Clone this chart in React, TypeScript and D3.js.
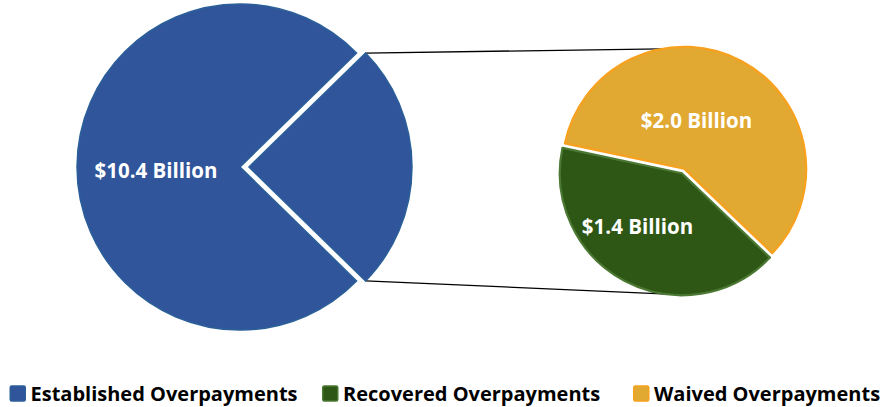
import React from "react";
import * as d3 from "d3";

const mainCategories = ["Established Overpayments", "Split"];
const mainValues = [10.4, 3.4];
const subCategories = ["Waived Overpayments", "Recovered Overpayments"];
const subValues = [2.0, 1.4];
const sliceLabels = ["$10.4 Billion", "$2.0 Billion", "$1.4 Billion"];
const legendLabels = ["Established Overpayments", "Recovered Overpayments", "Waived Overpayments"];

const W = 883;
const H = 407;
const FONT = "'Open Sans', Lato, sans-serif";

const BLUE = "#30559A";
const BLUE_STROKE = "#2B5F99";
const GREEN = "#2E5615";
const GREEN_STROKE = "#4B7833";
const ORANGE = "#E1A832";
const ORANGE_STROKE = "#F7A11E";

export default function App() {
  // big pie
  const bigCx = 240, bigCy = 167, bigR = 163, wedgeShift = 9;
  const total = d3.sum(mainValues);
  const wedgeAngle = (mainValues[1] / total) * 2 * Math.PI;
  const a0 = Math.PI / 2 - wedgeAngle / 2;
  const bigPie = d3.pie<number>().sort(null).startAngle(a0).endAngle(a0 + 2 * Math.PI);
  const bigArcs = bigPie([mainValues[1], mainValues[0]]);
  const bigArc = d3.arc<d3.PieArcDatum<number>>().innerRadius(0).outerRadius(bigR);

  // small pie
  const sCx = 683, sCy = 171, sR = 122, explode = 2.5;
  const sStart = (-78 * Math.PI) / 180;
  const smallPie = d3.pie<number>().sort(null).startAngle(sStart).endAngle(sStart + 2 * Math.PI);
  const smallArcs = smallPie(subValues);
  const smallArc = d3.arc<d3.PieArcDatum<number>>().innerRadius(0).outerRadius(sR);
  const fills = [ORANGE, GREEN];
  const strokes = [ORANGE_STROKE, GREEN_STROKE];

  const wedge = bigArcs[0];
  const wx = bigCx + wedgeShift;
  const topCorner: [number, number] = [wx + bigR * Math.sin(wedge.startAngle), bigCy - bigR * Math.cos(wedge.startAngle)];
  const botCorner: [number, number] = [wx + bigR * Math.sin(wedge.endAngle), bigCy - bigR * Math.cos(wedge.endAngle)];
  const tA = (-10 * Math.PI) / 180, bA = (187 * Math.PI) / 180, cr = sR + 2;
  const topEnd: [number, number] = [sCx + cr * Math.sin(tA), sCy - cr * Math.cos(tA)];
  const botEnd: [number, number] = [sCx + cr * Math.sin(bA), sCy - cr * Math.cos(bA)];

  const legendX = [9.5, 322, 633];
  const legendFill = [BLUE, GREEN, ORANGE];
  const legendStroke = [BLUE_STROKE, GREEN_STROKE, ORANGE_STROKE];

  return (
    <svg width={W} height={H} style={{ position: "absolute", left: 0, top: 0 }} fontFamily={FONT}>
      <rect width={W} height={H} fill="#fff" />
      <line x1={topCorner[0]} y1={topCorner[1]} x2={topEnd[0]} y2={topEnd[1]} stroke="#000" strokeWidth={1.3} />
      <line x1={botCorner[0]} y1={botCorner[1]} x2={botEnd[0]} y2={botEnd[1]} stroke="#000" strokeWidth={1.3} />
      {/* big pie */}
      <path d={bigArc(bigArcs[1]) || ""} transform={`translate(${bigCx},${bigCy})`} fill={BLUE} stroke={BLUE_STROKE} strokeWidth={1.5} />
      <path d={bigArc(bigArcs[0]) || ""} transform={`translate(${wx},${bigCy})`} fill={BLUE} stroke={BLUE_STROKE} strokeWidth={1.5} />
      <text x={156} y={178.3} fill="#fff" fontWeight="bold" fontSize={20.5} textAnchor="middle">{sliceLabels[0]}</text>
      {/* small pie */}
      {smallArcs.map((a, i) => {
        const mid = (a.startAngle + a.endAngle) / 2;
        const dx = explode * Math.sin(mid), dy = -explode * Math.cos(mid);
        return (
          <path key={subCategories[i]} d={smallArc(a) || ""} transform={`translate(${sCx + dx},${sCy + dy})`} fill={fills[i]} stroke={strokes[i]} strokeWidth={2.2} strokeLinejoin="round" />
        );
      })}
      <text x={696.5} y={128.3} fill="#fff" fontWeight="bold" fontSize={20.5} textAnchor="middle">{sliceLabels[1]}</text>
      <text x={637.5} y={234} fill="#fff" fontWeight="bold" fontSize={20.5} textAnchor="middle">{sliceLabels[2]}</text>
      {/* legend */}
      {legendLabels.map((l, i) => (
        <g key={l}>
          <rect x={legendX[i] + 0.75} y={386} width={15} height={15} rx={1.5} fill={legendFill[i]} stroke={legendStroke[i]} strokeWidth={1.5} />
          <text x={legendX[i] + 21} y={400.6} fontWeight="bold" fontSize={20} fill="#000">{l}</text>
        </g>
      ))}
    </svg>
  );
}
